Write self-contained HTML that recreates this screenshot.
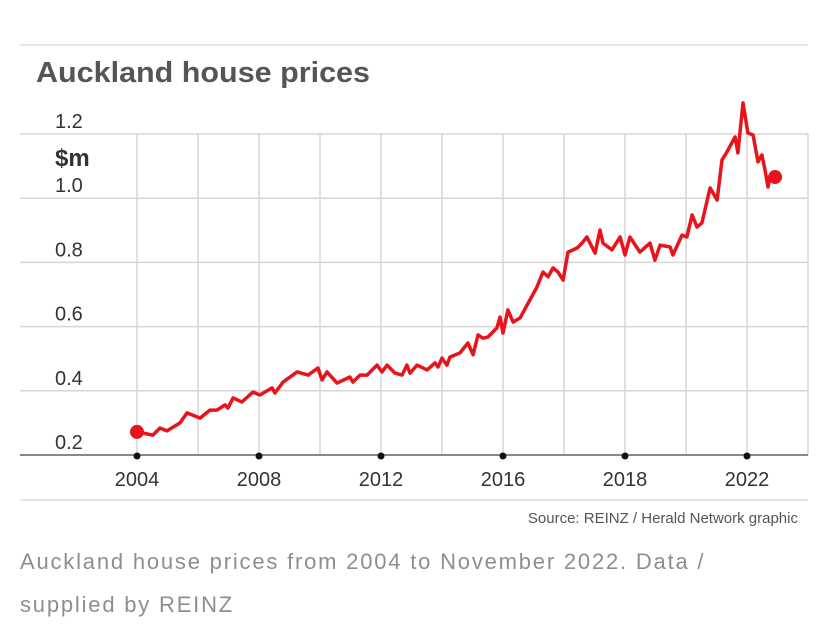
<!DOCTYPE html>
<html><head><meta charset="utf-8"><style>
body{margin:0;background:#fff;width:824px;height:642px;overflow:hidden;font-family:"Liberation Sans",sans-serif}
.cap{position:absolute;left:20px;top:540px;font-size:22px;line-height:43px;color:#8a8f94;width:800px;letter-spacing:1.8px;white-space:nowrap}
</style></head><body>
<svg id="chart" width="824" height="540" style="position:absolute;left:0;top:0">
<line x1="20" y1="45" x2="808" y2="45" stroke="#ddd" stroke-width="1.5"/>
<line x1="20" y1="500" x2="808" y2="500" stroke="#ddd" stroke-width="1.5"/>
<text x="36" y="82" font-size="29" font-weight="bold" fill="#555" textLength="334" lengthAdjust="spacingAndGlyphs">Auckland house prices</text>
<text x="55" y="166" font-size="24" font-weight="bold" fill="#333">$m</text>
<text x="798" y="523" font-size="15" fill="#555" text-anchor="end">Source: REINZ / Herald Network graphic</text>
<g id="grid"></g><g id="axes"></g><g id="series"></g>
</svg>
<div class="cap">Auckland house prices from 2004 to November 2022. Data /<br>supplied by REINZ</div>
<script>
const xTicks=[2004,2008,2012,2016,2020,2024];
const xTickLabels=["2004","2008","2012","2016","2018","2022"];
const yTicks=[0.2,0.4,0.6,0.8,1.0,1.2];
const yTickLabels=["0.2","0.4","0.6","0.8","1.0","1.2"];
const t1=[2004,2004.52,2004.75,2004.98,2005.41,2005.64,2006.07,2006.39,2006.62,2006.89,2006.98,2007.15,2007.44,2007.80,2008.03,2008.43,2008.52,2008.79,2009.25,2009.61,2009.93,2010.07,2010.23,2010.56,2010.98,2011.08,2011.31,2011.54,2011.87,2012.03,2012.20,2012.46,2012.69,2012.85,2012.95,2013.18,2013.51,2013.77,2013.87,2014.00,2014.16,2014.26,2014.59,2014.85,2015.02,2015.18,2015.34,2015.51,2015.80,2015.90,2016.00,2016.16,2016.33,2016.56];
const v1=[0.272,0.262,0.284,0.275,0.300,0.331,0.315,0.340,0.340,0.356,0.346,0.378,0.365,0.396,0.387,0.409,0.393,0.427,0.459,0.449,0.471,0.434,0.459,0.424,0.443,0.427,0.449,0.449,0.480,0.459,0.480,0.455,0.449,0.480,0.455,0.480,0.465,0.487,0.474,0.502,0.480,0.505,0.518,0.549,0.512,0.574,0.564,0.568,0.596,0.630,0.580,0.652,0.614,0.627];
const t2=[2017.11,2017.31,2017.48,2017.64,2017.80,2017.97,2018.13,2018.43,2018.59,2018.75,2019.02,2019.18,2019.28,2019.57,2019.84,2020.00,2020.16,2020.49,2020.82,2020.98,2021.15,2021.48,2021.57,2021.87,2022.03,2022.20,2022.36,2022.52,2022.79,2023.02,2023.18,2023.34,2023.61,2023.70,2023.87,2024.03,2024.20,2024.36,2024.49,2024.59,2024.69,2024.75,2024.92];
const v2=[0.723,0.770,0.755,0.783,0.770,0.745,0.832,0.845,0.860,0.879,0.829,0.901,0.860,0.839,0.879,0.823,0.879,0.832,0.860,0.807,0.854,0.848,0.823,0.885,0.879,0.948,0.910,0.923,1.032,0.994,1.119,1.144,1.191,1.141,1.297,1.203,1.197,1.113,1.135,1.088,1.035,1.066,1.066];
const times=t1.concat(t2), values=v1.concat(v2);
const NS="http://www.w3.org/2000/svg";
const X=t=>137+(t-2004)*30.5;
const Y=v=>455-(v-0.2)*321;
function mk(tag,attrs,parent){const e=document.createElementNS(NS,tag);for(const k in attrs)e.setAttribute(k,attrs[k]);parent.appendChild(e);return e;}
const grid=document.getElementById('grid'),axes=document.getElementById('axes'),series=document.getElementById('series');
for(let i=0;i<yTicks.length;i++){
  const y=Y(yTicks[i]);
  if(i>0){const l=mk('line',{x1:20,x2:808,y1:y,y2:y,stroke:'#d6d6d6','stroke-width':1.5},grid);
  
  }
  const t=mk('text',{x:55,y:y-6,'font-size':20,fill:'#333'},axes);t.textContent=yTickLabels[i];
  
  
}
for(let t=2004;t<=2026;t+=2){const x=X(t);if(x>808)break;
  const l=mk('line',{x1:x,x2:x,y1:134,y2:455,stroke:'#d6d6d6','stroke-width':1.5},grid);
  
  }
const ax=mk('line',{x1:20,x2:808,y1:455,y2:455,stroke:'#888','stroke-width':2},axes);


for(let i=0;i<xTicks.length;i++){const x=X(xTicks[i]);
  const d=mk('circle',{cx:x,cy:456,r:3.5,fill:'#111'},axes);
  
  
  const t=mk('text',{x:x,y:486,'font-size':20,fill:'#333','text-anchor':'middle'},axes);t.textContent=xTickLabels[i];
  
  }
const pts=times.map((t,i)=>X(t).toFixed(1)+','+Y(values[i]).toFixed(1)).join(' ');
const pl=mk('polyline',{points:pts,fill:'none',stroke:'#e8141b','stroke-width':3.5,'stroke-linejoin':'round'},series);


const s=mk('circle',{cx:X(times[0]),cy:Y(values[0]),r:7,fill:'#e8141b'},series);


const e=mk('circle',{cx:X(times[times.length-1]),cy:Y(values[values.length-1]),r:7,fill:'#e8141b'},series);


</script>
</body></html>
